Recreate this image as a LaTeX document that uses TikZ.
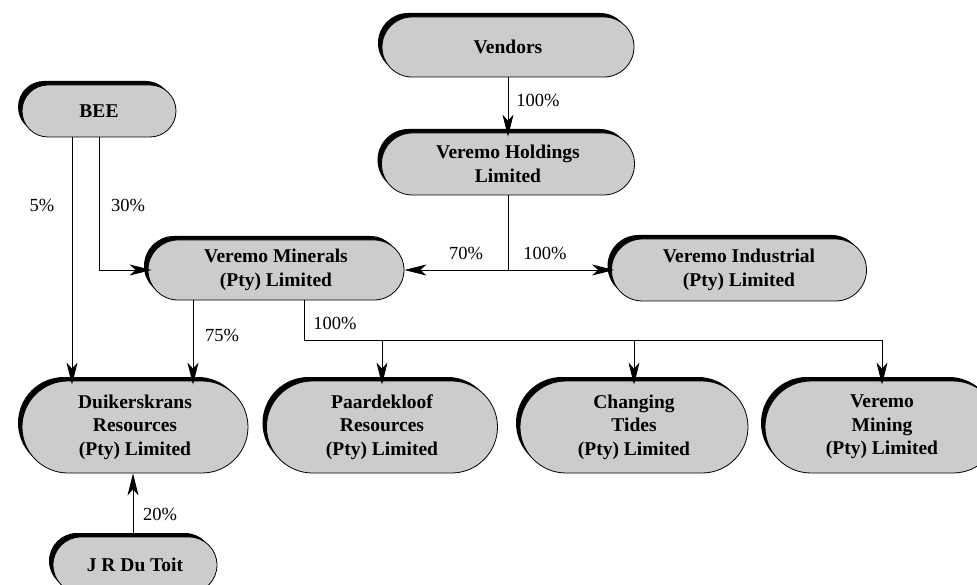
\documentclass[tikz,border=0pt]{standalone}
\usepackage{fontspec}
\setmainfont{Liberation Serif}
\usetikzlibrary{shadows,arrows.meta,calc}
\definecolor{boxgray}{RGB}{204,204,204}
\tikzset{
  org/.style={draw=black, line width=0.8pt, fill=boxgray,
    font=\fontsize{19.5}{23.5}\selectfont\bfseries, align=center, inner sep=0pt,
    drop shadow={shadow xshift=-4pt, shadow yshift=4pt, fill=black, opacity=1}},
  stad/.style n args={3}{minimum width=#1pt, minimum height=#2pt, rounded corners=#3pt},
  conn/.style={draw=black, line width=0.9pt},
  arr/.style={conn, -{Stealth[length=22pt,width=11pt,inset=6pt]}},
  lbl/.style={font=\fontsize{18.5}{22}\selectfont, inner sep=0pt}
}
\begin{document}
\begin{tikzpicture}[x=1pt,y=-1pt]
\clip (0,0) rectangle (977,585);
\fill[white] (0,0) rectangle (977,585);
% nodes
\node[org, stad={252}{60}{30}] (vend) at (508,47) {Vendors};
\node[org, stad={154}{52}{26}] (bee) at (99,111) {BEE};
\node[org, stad={253}{62}{31}] (hold) at (508,164) {Veremo Holdings\\Limited};
\node[org, stad={256}{60}{30}] (min) at (276,270) {Veremo Minerals\\(Pty) Limited};
\node[org, stad={255}{62}{31}] (ind) at (739,270) {Veremo Industrial\\(Pty) Limited};
\node[org, stad={226}{92}{46}] (duik) at (135,427) {Duikerskrans\\Resources\\(Pty) Limited};
\node[org, stad={231}{92}{46}] (paard) at (382,427) {Paardekloof\\Resources\\(Pty) Limited};
\node[org, stad={228}{92}{46}] (tides) at (634,427) {Changing\\Tides\\(Pty) Limited};
\node[org, stad={234}{92}{46}] (mining) at (882,427) {Veremo\\Mining\\(Pty) Limited};
\node[org, stad={164}{56}{28}] (jr) at (135,565) {J R Du Toit};
% connectors
\draw[arr, shorten >=-4pt] (vend.south) -- (hold.north);
\coordinate (j1) at (hold.south |- min.east);
\draw[conn] (hold.south) -- (j1);
\draw[arr] (j1) -- (min.east);
\draw[arr, shorten >=-3pt] (j1) -- (ind.west);
\coordinate (b5) at ([xshift=-27pt]bee.south);
\draw[arr, shorten >=-4pt] (b5) -- (b5 |- duik.north);
\draw[arr, shorten >=-4pt] (bee.south) -- (bee.south |- min.west) -- (min.west);
\coordinate (m75) at ([xshift=-83pt]min.south);
\draw[arr, shorten >=-4pt] (m75) -- (m75 |- duik.north);
\coordinate (m100) at ([xshift=28pt]min.south);
\coordinate (bus) at ([yshift=-40pt]m100);
\draw[conn] (m100) -- (bus) -- (bus -| mining.north);
\draw[arr, shorten >=-4pt] (bus -| paard.north) -- (paard.north);
\draw[arr, shorten >=-4pt] (bus -| tides.north) -- (tides.north);
\draw[arr, shorten >=-4pt] (bus -| mining.north) -- (mining.north);
\coordinate (jt) at ([xshift=-2pt]jr.north);
\draw[arr] (jt) -- (jt |- duik.south);
% labels
\node[lbl] (l1) at (538,100) {100\%};
\node[lbl] (l2) at (466,253) {70\%};
\node[lbl] (l3) at (545,253) {100\%};
\node[lbl] (l4) at (42,205) {5\%};
\node[lbl] (l5) at (128,205) {30\%};
\node[lbl] (l6) at (222,335) {75\%};
\node[lbl] (l7) at (335,323) {100\%};
\node[lbl] (l8) at (160,514) {20\%};
\end{tikzpicture}
\end{document}
